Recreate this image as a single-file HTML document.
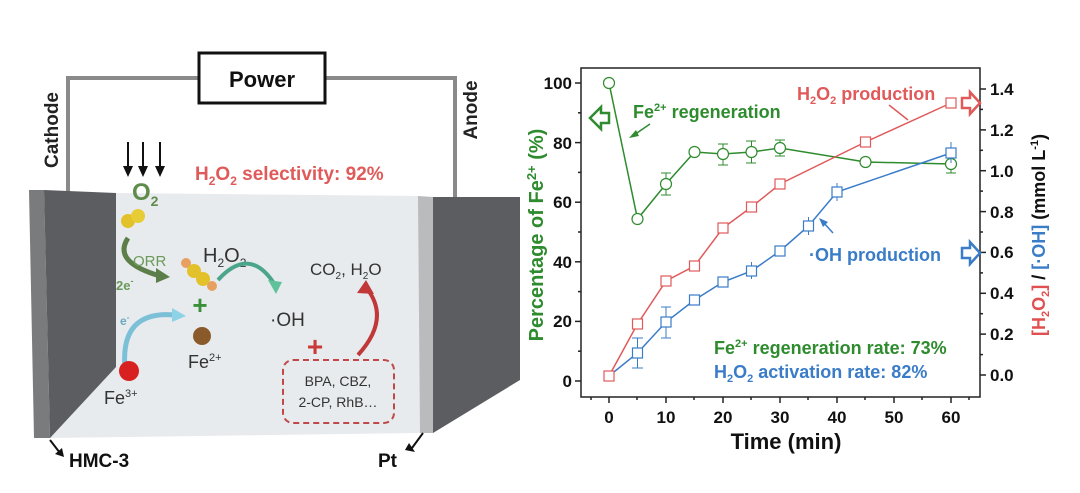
<!DOCTYPE html>
<html><head><meta charset="utf-8"><style>
html,body{margin:0;padding:0;background:#fff;}
svg{display:block;font-family:"Liberation Sans",Arial,sans-serif;font-weight:bold;}
</style></head><body>
<svg width="1080" height="493" viewBox="0 0 1080 493" xmlns="http://www.w3.org/2000/svg">
<!-- Schematic -->
<polyline points="68,192 68,78 455,78 455,197" fill="none" stroke="#8a8a8a" stroke-width="4"/>
<rect x="199" y="53" width="126" height="50" fill="#fff" stroke="#111" stroke-width="3"/>
<text x="262" y="87" font-size="22" text-anchor="middle" fill="#111">Power</text>
<text transform="translate(58,130) rotate(-90)" font-size="19" text-anchor="middle" fill="#222">Cathode</text>
<text transform="translate(477,110) rotate(-90)" font-size="19" text-anchor="middle" fill="#222">Anode</text>
<polygon points="116,193 420,196 420,433 50,438 116,367" fill="#e8ebee"/>
<polygon points="29,190 44,190 50,438 34,438" fill="#7a7b7d"/>
<polygon points="44,190 116,193 116,367 50,438" fill="#5b5d60"/>
<polygon points="418,196 433,197 433,433 420,433" fill="#b9bbbd"/>
<polygon points="433,197 520,197 520,380 433,433" fill="#5b5d60"/>
<g stroke="#111" stroke-width="2" fill="#111">
<line x1="128" y1="142" x2="128" y2="170"/><polygon points="123,166 133,166 128,177" stroke="none"/>
<line x1="143" y1="142" x2="143" y2="170"/><polygon points="138,166 148,166 143,177" stroke="none"/>
<line x1="160" y1="142" x2="160" y2="170"/><polygon points="155,166 165,166 160,177" stroke="none"/>
</g>
<text x="132" y="200" font-size="24" fill="#5f8c4a">O<tspan font-size="14" dy="6">2</tspan></text>
<text x="195" y="180" font-size="19" fill="#e05a5a">H<tspan font-size="12" dy="5">2</tspan><tspan dy="-5">O</tspan><tspan font-size="12" dy="5">2</tspan><tspan dy="-5"> selectivity: 92%</tspan></text>
<circle cx="128" cy="221" r="7" fill="#e2c12a"/><circle cx="138" cy="216" r="7" fill="#e8cc35"/>
<path d="M128,238 Q112,262 160,276" fill="none" stroke="#5c7f4a" stroke-width="5"/>
<polygon points="156,268 170,277 156,283" fill="#5c7f4a"/>
<text x="133" y="266" font-size="15" fill="#6a9a5a" font-weight="normal">ORR</text>
<text x="116" y="290" font-size="13" fill="#6a9a5a">2e<tspan font-size="9" dy="-6">-</tspan></text>
<circle cx="186" cy="263" r="5" fill="#e8a060"/><circle cx="194" cy="271" r="7" fill="#e2c12a"/><circle cx="203" cy="279" r="7" fill="#e2c12a"/><circle cx="212" cy="286" r="5" fill="#e8a060"/>
<text x="203" y="262" font-size="20" fill="#333" font-weight="normal">H<tspan font-size="12" dy="5">2</tspan><tspan dy="-5">O</tspan><tspan font-size="12" dy="5">2</tspan></text>
<path d="M218,280 Q250,245 275,285" fill="none" stroke="#4aa58a" stroke-width="4"/>
<polygon points="268,280 282,282 276,294" fill="#5fc29a"/>
<text x="200" y="314" font-size="26" fill="#3a8f3a" text-anchor="middle">+</text>
<text x="270" y="326" font-size="19" fill="#333" font-weight="normal">·OH</text>
<circle cx="202" cy="336" r="9" fill="#8b5a2b"/>
<text x="188" y="368" font-size="18" fill="#333" font-weight="normal">Fe<tspan font-size="11" dy="-7">2+</tspan></text>
<text x="120" y="325" font-size="12" fill="#6aa8c0">e<tspan font-size="8" dy="-5">-</tspan></text>
<path d="M125,368 Q120,310 175,315" fill="none" stroke="#7cc0d8" stroke-width="5"/>
<polygon points="172,308 186,316 172,322" fill="#8ed2e6"/>
<circle cx="129" cy="371" r="10" fill="#d82020"/>
<text x="104" y="404" font-size="18" fill="#333" font-weight="normal">Fe<tspan font-size="11" dy="-7">3+</tspan></text>
<text x="310" y="275" font-size="17" fill="#333" font-weight="normal">CO<tspan font-size="10" dy="4">2</tspan><tspan dy="-4">, H</tspan><tspan font-size="10" dy="4">2</tspan><tspan dy="-4">O</tspan></text>
<path d="M358,355 Q390,320 368,290" fill="none" stroke="#c03838" stroke-width="4"/>
<polygon points="357,293 366,280 374,294" fill="#c03838"/>
<text x="315" y="356" font-size="28" fill="#c83a3a" text-anchor="middle">+</text>
<rect x="283" y="360" width="111" height="63" rx="10" fill="none" stroke="#c04848" stroke-width="2" stroke-dasharray="6,4"/>
<text x="338" y="386" font-size="14" fill="#333" text-anchor="middle" font-weight="normal">BPA, CBZ,</text>
<text x="338" y="407" font-size="14" fill="#333" text-anchor="middle" font-weight="normal">2-CP, RhB…</text>
<line x1="50" y1="440" x2="60" y2="453" stroke="#111" stroke-width="2"/><polygon points="55,454 64,457 62,448" fill="#111"/>
<text x="69" y="467" font-size="19" fill="#111">HMC-3</text>
<line x1="423" y1="433" x2="412" y2="448" stroke="#111" stroke-width="2"/><polygon points="405,450 415,452 409,443" fill="#111"/>
<text x="378" y="467" font-size="19" fill="#111">Pt</text>

<!-- Chart -->
<rect x="581" y="68" width="399" height="329" fill="none" stroke="#222" stroke-width="1.5"/>
<g stroke="#222" stroke-width="1.5">
<line x1="609" y1="397" x2="609" y2="403"/><line x1="666" y1="397" x2="666" y2="403"/><line x1="723" y1="397" x2="723" y2="403"/><line x1="780" y1="397" x2="780" y2="403"/><line x1="837" y1="397" x2="837" y2="403"/><line x1="894" y1="397" x2="894" y2="403"/><line x1="951" y1="397" x2="951" y2="403"/>
<line x1="637" y1="397" x2="637" y2="400"/><line x1="694" y1="397" x2="694" y2="400"/><line x1="751" y1="397" x2="751" y2="400"/><line x1="808" y1="397" x2="808" y2="400"/><line x1="865" y1="397" x2="865" y2="400"/><line x1="922" y1="397" x2="922" y2="400"/><line x1="591" y1="397" x2="591" y2="400"/><line x1="969" y1="397" x2="969" y2="400"/>
<line x1="575" y1="83" x2="581" y2="83"/><line x1="575" y1="142.6" x2="581" y2="142.6"/><line x1="575" y1="202.2" x2="581" y2="202.2"/><line x1="575" y1="261.8" x2="581" y2="261.8"/><line x1="575" y1="321.4" x2="581" y2="321.4"/><line x1="575" y1="381" x2="581" y2="381"/>
<line x1="578" y1="112.8" x2="581" y2="112.8"/><line x1="578" y1="172.4" x2="581" y2="172.4"/><line x1="578" y1="232" x2="581" y2="232"/><line x1="578" y1="291.6" x2="581" y2="291.6"/><line x1="578" y1="351.2" x2="581" y2="351.2"/>
<line x1="980" y1="375" x2="986" y2="375"/><line x1="980" y1="334.1" x2="986" y2="334.1"/><line x1="980" y1="293.3" x2="986" y2="293.3"/><line x1="980" y1="252.4" x2="986" y2="252.4"/><line x1="980" y1="211.6" x2="986" y2="211.6"/><line x1="980" y1="170.7" x2="986" y2="170.7"/><line x1="980" y1="129.9" x2="986" y2="129.9"/><line x1="980" y1="89" x2="986" y2="89"/>
<line x1="980" y1="354.6" x2="983" y2="354.6"/><line x1="980" y1="313.7" x2="983" y2="313.7"/><line x1="980" y1="272.9" x2="983" y2="272.9"/><line x1="980" y1="232" x2="983" y2="232"/><line x1="980" y1="191.1" x2="983" y2="191.1"/><line x1="980" y1="150.3" x2="983" y2="150.3"/><line x1="980" y1="109.4" x2="983" y2="109.4"/>
</g>
<g font-size="17" fill="#111" text-anchor="middle">
<text x="609" y="423">0</text><text x="666" y="423">10</text><text x="723" y="423">20</text><text x="780" y="423">30</text><text x="837" y="423">40</text><text x="894" y="423">50</text><text x="951" y="423">60</text>
</g>
<text x="786" y="449" font-size="22" fill="#111" text-anchor="middle">Time (min)</text>
<g font-size="17" fill="#111" text-anchor="end">
<text x="572" y="89">100</text><text x="572" y="149">80</text><text x="572" y="208">60</text><text x="572" y="268">40</text><text x="572" y="327">20</text><text x="572" y="387">0</text>
</g>
<g font-size="17" fill="#111" text-anchor="start">
<text x="990" y="381">0.0</text><text x="990" y="340">0.2</text><text x="990" y="299">0.4</text><text x="990" y="258">0.6</text><text x="990" y="218">0.8</text><text x="990" y="177">1.0</text><text x="990" y="136">1.2</text><text x="990" y="95">1.4</text>
</g>
<text transform="translate(543,235) rotate(-90)" font-size="20" fill="#2e8b2e" text-anchor="middle">Percentage of Fe<tspan font-size="13" dy="-7">2+</tspan><tspan dy="7"> (%)</tspan></text>
<text transform="translate(1045,235) rotate(-90)" font-size="18" text-anchor="middle"><tspan fill="#e05050">[H<tspan font-size="11" dy="4">2</tspan><tspan dy="-4">O</tspan><tspan font-size="11" dy="4">2</tspan><tspan dy="-4">]</tspan></tspan><tspan fill="#111"> / </tspan><tspan fill="#3a7cc8">[·OH]</tspan><tspan fill="#111"> (mmol L<tspan font-size="11" dy="-7">-1</tspan><tspan dy="7">)</tspan></tspan></text>

<g fill="none" stroke-width="1.5">
<polyline stroke="#2e8b2e" points="609,83 637.5,219 666,184 694.5,152 723,154 751.5,152 780,148 865.5,162 951,164"/>
<polyline stroke="#e05a5a" points="609,376 637.5,324 666,281 694.5,266 723,228 751.5,207 780,184 865.5,142 951,103"/>
<polyline stroke="#3a7cc8" points="609,376 637.5,353 666,322 694.5,300 723,282 751.5,271 780,251 808.5,226 837,192 951,153"/>
</g>
<g fill="none" stroke="#2e8b2e" stroke-width="1">
<line x1="637.5" y1="215" x2="637.5" y2="223"/><line x1="666" y1="173" x2="666" y2="195"/><line x1="694.5" y1="147" x2="694.5" y2="157"/><line x1="723" y1="144" x2="723" y2="165"/><line x1="751.5" y1="141" x2="751.5" y2="163"/><line x1="780" y1="140" x2="780" y2="156"/><line x1="951" y1="154" x2="951" y2="173"/>
<line x1="661" y1="173" x2="671" y2="173"/><line x1="661" y1="195" x2="671" y2="195"/><line x1="718" y1="144" x2="728" y2="144"/><line x1="718" y1="165" x2="728" y2="165"/><line x1="746" y1="141" x2="756" y2="141"/><line x1="746" y1="163" x2="756" y2="163"/><line x1="775" y1="140" x2="785" y2="140"/><line x1="775" y1="156" x2="785" y2="156"/><line x1="946" y1="154" x2="956" y2="154"/><line x1="946" y1="173" x2="956" y2="173"/>
</g>
<g fill="#fff" stroke="#2e8b2e" stroke-width="1.2">
<circle cx="609" cy="83" r="5.5"/><circle cx="637.5" cy="219" r="5.5"/><circle cx="666" cy="184" r="5.5"/><circle cx="694.5" cy="152" r="5.5"/><circle cx="723" cy="154" r="5.5"/><circle cx="751.5" cy="152" r="5.5"/><circle cx="780" cy="148" r="5.5"/><circle cx="865.5" cy="162" r="5.5"/><circle cx="951" cy="164" r="5.5"/>
</g>
<g fill="none" stroke="#3a7cc8" stroke-width="1">
<line x1="637.5" y1="338" x2="637.5" y2="368"/><line x1="666" y1="307" x2="666" y2="338"/><line x1="751.5" y1="262" x2="751.5" y2="279"/><line x1="808.5" y1="217" x2="808.5" y2="235"/><line x1="837" y1="183" x2="837" y2="201"/><line x1="951" y1="142" x2="951" y2="163"/>
<line x1="632" y1="338" x2="643" y2="338"/><line x1="632" y1="368" x2="643" y2="368"/><line x1="661" y1="307" x2="671" y2="307"/><line x1="661" y1="338" x2="671" y2="338"/>
</g>
<g fill="#fff" stroke="#3a7cc8" stroke-width="1.2">
<rect x="632.5" y="348" width="10" height="10"/><rect x="661" y="317" width="10" height="10"/><rect x="689.5" y="295" width="10" height="10"/><rect x="718" y="277" width="10" height="10"/><rect x="746.5" y="266" width="10" height="10"/><rect x="775" y="246" width="10" height="10"/><rect x="803.5" y="221" width="10" height="10"/><rect x="832" y="187" width="10" height="10"/><rect x="946" y="148" width="10" height="10"/>
</g>
<g fill="#fff" stroke="#e05a5a" stroke-width="1.2">
<rect x="604" y="371" width="10" height="10"/><rect x="632.5" y="319" width="10" height="10"/><rect x="661" y="276" width="10" height="10"/><rect x="689.5" y="261" width="10" height="10"/><rect x="718" y="223" width="10" height="10"/><rect x="746.5" y="202" width="10" height="10"/><rect x="775" y="179" width="10" height="10"/><rect x="860.5" y="137" width="10" height="10"/><rect x="946" y="98" width="10" height="10"/>
</g>
<text x="633" y="118" font-size="18" fill="#2e8b2e">Fe<tspan font-size="11" dy="-7">2+</tspan><tspan dy="7"> regeneration</tspan></text>
<line x1="650" y1="124" x2="634" y2="135" stroke="#2e8b2e" stroke-width="1.5"/><polygon points="629,138 636,130 639,136" fill="#2e8b2e"/>
<text x="797" y="100" font-size="18" fill="#e05a5a">H<tspan font-size="11" dy="4">2</tspan><tspan dy="-4">O</tspan><tspan font-size="11" dy="4">2</tspan><tspan dy="-4"> production</tspan></text>
<line x1="908" y1="120" x2="889" y2="105" stroke="#e05a5a" stroke-width="1.5"/>
<text x="809" y="261" font-size="18" fill="#3a7cc8">·OH production</text>
<line x1="833" y1="233" x2="823" y2="222" stroke="#3a7cc8" stroke-width="1.5"/><polygon points="819,218 828,222 823,227" fill="#3a7cc8"/>
<text x="714" y="354" font-size="18" fill="#2e8b2e">Fe<tspan font-size="11" dy="-7">2+</tspan><tspan dy="7"> regeneration rate: 73%</tspan></text>
<text x="714" y="378" font-size="18" fill="#3a7cc8">H<tspan font-size="11" dy="4">2</tspan><tspan dy="-4">O</tspan><tspan font-size="11" dy="4">2</tspan><tspan dy="-4"> activation rate: 82%</tspan></text>
<polygon points="590,118 601,107 601,113 609,113 609,123 601,123 601,129" fill="#fff" stroke="#2e8b2e" stroke-width="2.5"/>
<polygon points="962,98 970,98 970,92 980,103 970,114 970,108 962,108" fill="#fff" stroke="#e05a5a" stroke-width="2.5"/>
<polygon points="962,248 970,248 970,242 980,253 970,264 970,258 962,258" fill="#fff" stroke="#3a7cc8" stroke-width="2.5"/>
</svg>
</body></html>
